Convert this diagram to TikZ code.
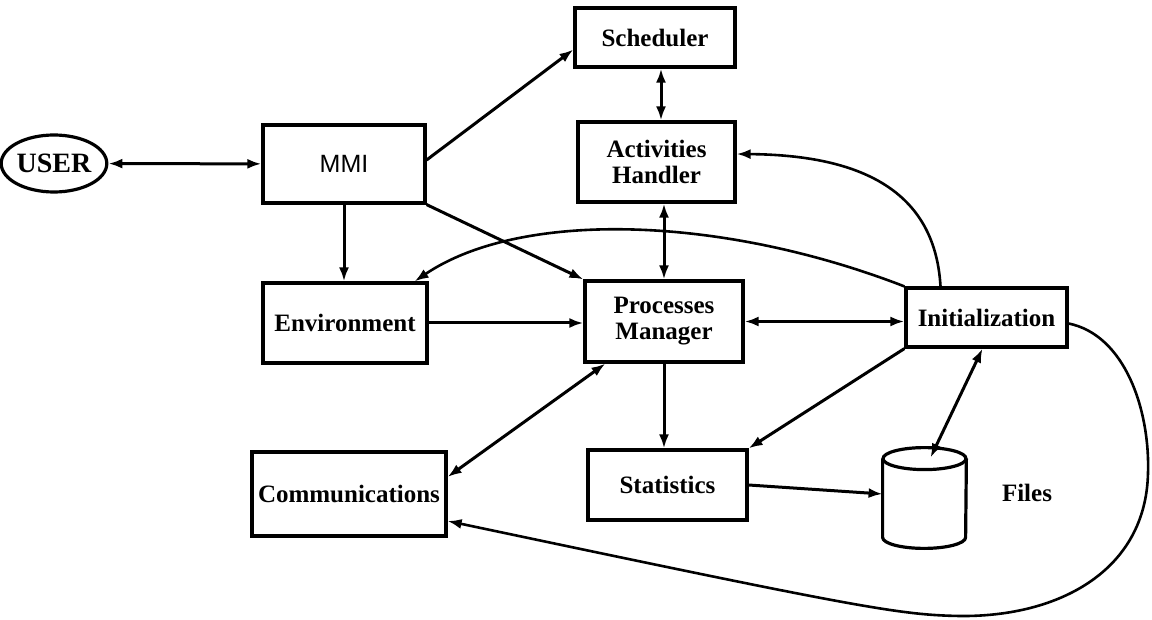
\documentclass[tikz,border=0pt]{standalone}
\usepackage{fontspec}
\setmainfont{Liberation Serif}
\newfontfamily\mmifont{Liberation Sans}
\usetikzlibrary{arrows.meta,shapes.geometric}
\tikzstyle{block}=[draw,line width=1.6pt,inner sep=2pt,align=center,font=\bfseries\fontsize{12.5}{13}\selectfont]
\tikzstyle{edge} = [draw,line width=1.5pt,->,>={Latex[length=7pt,width=5pt]}]
\tikzstyle{dedge} = [edge,<->]
\tikzstyle{curve} = [edge,line width=1.3pt]
\tikzstyle{label} = [font=\bfseries\fontsize{12.5}{13}\selectfont]

\begin{document}
\begin{tikzpicture}[x=0.5pt,y=-0.5pt]
				\useasboundingbox (0,0) rectangle (1152,620);

				% First we draw the blocks
				\node[draw,ellipse,line width=1.6pt,inner sep=0pt,minimum width=46pt,minimum height=28.5pt,
					font=\bfseries\fontsize{14}{15}\selectfont] (user) at (54,163.5) {USER};
				\node[block,minimum width=80pt,minimum height=29.5pt] (sched) at (655,37.5) {Scheduler};
				\node[block,minimum width=78.5pt,minimum height=40pt] (activ) at (656.5,162) {Activities\\Handler};
				\node[block,minimum width=81pt,minimum height=39pt] (mmi) at (344,164) {\mmifont\mdseries MMI};
				\node[block,minimum width=82pt,minimum height=40pt] (env) at (345,323) {Environment};
				\node[block,minimum width=79pt,minimum height=40.5pt] (proc) at (664,321.5) {Processes\\Manager};
				\node[block,minimum width=80.5pt,minimum height=29.5pt] (init) at (986.5,317.5) {Initialization};
				\node[block,minimum width=79.5pt,minimum height=35pt] (stats) at (667.5,485) {Statistics};
				\node[block,minimum width=97pt,minimum height=42pt] (comm) at (349,494) {Communications};
				\node[minimum width=41.5pt,minimum height=50pt,inner sep=0pt] (files) at (924.5,498) {};
				\node[label] (fileslabel) at (1027,493) {Files};

				% The files store is a cylinder
				\draw[line width=1.6pt] ([yshift=-5.5pt]files.north) ellipse (20.75pt and 5.5pt);
				\draw[line width=1.6pt] ([yshift=-5.5pt]files.north west) -- ([yshift=5.5pt]files.south west)
					arc[start angle=180,end angle=360,x radius=20.75pt,y radius=5.5pt] -- ([yshift=-5.5pt]files.north east);

				% Straight connectors
				\foreach \source/ \dest in {{(user)}/{(mmi)}, {([xshift=3pt]sched.south)}/{([xshift=3pt]sched.south |- activ.north)},
										{(proc.north |- activ.south)}/{(proc.north)}, {(proc.east)}/{(proc.east -| init.west)},
										{([xshift=11pt]proc.south west)}/{([yshift=8.5pt]comm.east)},
										{([xshift=-2pt]init.south)}/{([shift={(3pt,-5pt)}]files.north)}}
				\path[dedge] \source -- \dest;

				\foreach \source/ \dest in {{([yshift=2pt]mmi.east)}/{([yshift=-6pt]sched.west)}, {(mmi.south)}/{(mmi.south |- env.north)},
										{(mmi.south east)}/{(proc.north west)}, {(env.east)}/{(env.east -| proc.west)},
										{(proc.south)}/{(proc.south |- stats.north)}, {(init.south west)}/{(stats.north east)},
										{(stats.east)}/{([yshift=2pt]files.west)}}
				\path[edge] \source -- \dest;

				% Curved connectors from the initialization
				\path[curve] ([xshift=-23pt]init.north) .. controls (935,190) and (860,155) .. ([yshift=4pt]activ.east);
				\path[curve] (init.north west) .. controls (720,215) and (520,210) .. ([xshift=-7pt]env.north east);
				\path[curve] ([yshift=-3pt]init.east) .. controls (1125,335) and (1150,410) .. (1148,473)
					.. controls (1146,570) and (1060,617) .. (960,616)
					.. controls (900,615) and (860,608) .. ([yshift=-13.5pt]comm.east);

			\end{tikzpicture}
\end{document}
